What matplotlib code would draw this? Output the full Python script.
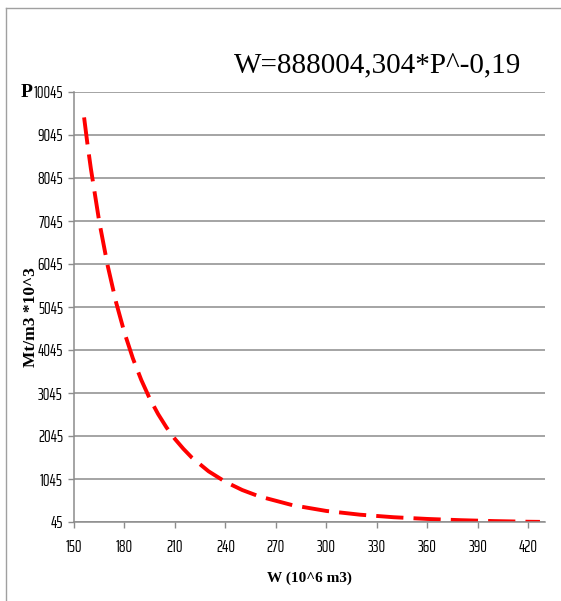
import matplotlib.pyplot as plt
from matplotlib.lines import Line2D

# values
w_vals = [156, 158, 160, 165, 170, 175, 180, 185, 190, 195, 200, 205, 210, 215,
          220, 230, 240, 250, 260, 280, 300, 320, 340, 360, 380, 400, 420, 427]
p_vals = [9454, 8834, 8270, 7031, 6010, 5156, 4447, 3850, 3348, 2917, 2555, 2243,
          1976, 1748, 1545, 1224, 979, 789, 642, 435, 302, 215, 156, 116, 87, 66, 51, 48]
x_ticks = [150, 180, 210, 240, 270, 300, 330, 360, 390, 420]
y_ticks = [45, 1045, 2045, 3045, 4045, 5045, 6045, 7045, 8045, 9045, 10045]
title_txt = "W=888004,304*P^-0,19"

GRID = "#8c8c8c"
narrow = ["Saira ExtraCondensed", "Fira Sans Extra Condensed", "DejaVu Sans"]
serif = ["Liberation Serif", "DejaVu Serif"]

fig = plt.figure(figsize=(5.61, 6.01), dpi=100)
ax = fig.add_axes([74/561, 79/601, (545-74)/561, (522-92)/601])

ax.plot(w_vals, p_vals, color="red", lw=2.8, dashes=(7, 2.6), solid_capstyle="butt")

ax.set_xlim(150, 430)
ax.set_ylim(45, 10045)
ax.set_xticks(x_ticks)
ax.set_yticks(y_ticks)
ax.yaxis.grid(True, color=GRID, lw=1.1)
ax.set_axisbelow(True)
for s in ["top", "right"]:
    ax.spines[s].set_visible(False)
for s in ["left", "bottom"]:
    ax.spines[s].set_color(GRID)
    ax.spines[s].set_linewidth(1.1)
ax.tick_params(axis="both", colors=GRID, length=4, width=1, labelcolor="black",
               labelsize=12)
ax.tick_params(axis="x", pad=8)
ax.tick_params(axis="y", pad=4)
for lab in ax.get_xticklabels() + ax.get_yticklabels():
    lab.set_family(narrow)

ax.set_xlabel("W (10^6 m3)", family=serif, fontweight="bold", fontsize=11, labelpad=12)
ax.set_ylabel("Mt/m3 *10^3", family=serif, fontweight="bold", fontsize=12.5)
ax.yaxis.set_label_coords((39 - 74) / 471, 0.477)

fig.text(378/561, 1 - 72/601, title_txt, family=serif, fontsize=21, ha="center", va="baseline")
fig.text(27/561, 1 - 97/601, "P", family=serif, fontweight="bold", fontsize=14, ha="center", va="baseline")

# outer frame (left and top edge)
fig.add_artist(Line2D([6/561, 6/561], [0, 1 - 8/601], transform=fig.transFigure, color="#a0a0a0", lw=1))
fig.add_artist(Line2D([6/561, 1], [1 - 8/601, 1 - 8/601], transform=fig.transFigure, color="#a0a0a0", lw=1))

fig.savefig("out.png", dpi=100)
